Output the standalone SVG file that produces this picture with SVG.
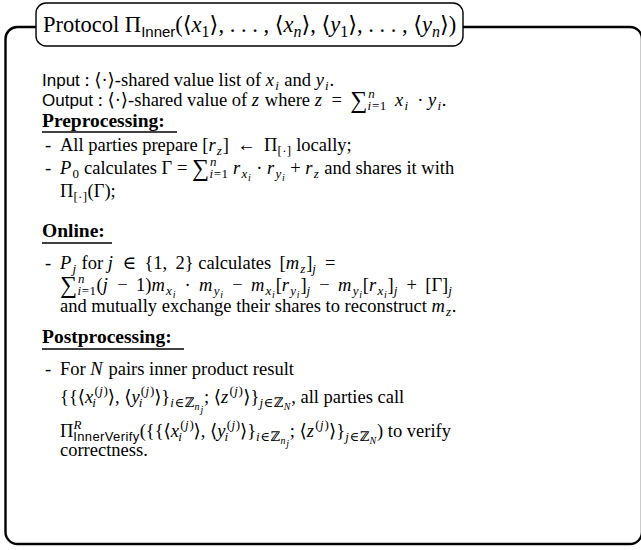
<svg xmlns="http://www.w3.org/2000/svg" width="641" height="550" viewBox="0 0 641 550">
  <style>
    text{font-family:"Liberation Serif","Times New Roman","DejaVu Serif",serif;font-size:18.5px;fill:#000}
    .title{font-size:22.5px}
    .sf{font-family:"Liberation Sans",Arial,sans-serif;font-size:17px}
    .i{font-style:italic;letter-spacing:1.2px}
    .sum{font-size:24px;baseline-shift:-2px;letter-spacing:1px}
    .s{font-size:13px;baseline-shift:-4px;letter-spacing:0.4px}
    .p{font-size:13px;baseline-shift:8px;letter-spacing:0.4px}
    .s .i,.s.i,.p .i,.p.i{letter-spacing:0.8px}
    .ss{font-size:10px;baseline-shift:-3px}
    .title .i{letter-spacing:0}
    .ts{font-family:"Liberation Sans",Arial,sans-serif;font-size:15px;baseline-shift:-5px}
    .tn{font-size:16px;baseline-shift:-5px}
    .h{font-weight:bold;font-size:19.5px}
    .frame{fill:none;stroke:#000;stroke-width:2.4}
    .tbox{fill:#fff;stroke:#000;stroke-width:1.4}
    .ul{stroke:#000;stroke-width:1.5}
  </style>

  <!-- outer frame, open at the title box -->
  <g id="frame">
    <path class="frame" d="M36,27 H17 A12,12 0 0 0 5.5,39 V532 A12,12 0 0 0 17.5,544 H630 A12,12 0 0 0 642,532 V39 A12,12 0 0 0 630,27 H463"/>
  </g>

  <!-- title box -->
  <g id="title">
    <rect class="tbox" x="36" y="3" width="427" height="43" rx="10"/>
    <text class="title" x="43" y="32">Protocol Π<tspan class="ts">Inner</tspan>(⟨<tspan class="i">x</tspan><tspan class="tn">1</tspan>⟩, . . . , ⟨<tspan class="i">x</tspan><tspan class="tn i">n</tspan>⟩, ⟨<tspan class="i">y</tspan><tspan class="tn">1</tspan>⟩, . . . , ⟨<tspan class="i">y</tspan><tspan class="tn i">n</tspan>⟩)</text>
  </g>

  <!-- input / output -->
  <g id="io">
    <text x="42" y="86"><tspan class="sf">Input</tspan> : ⟨·⟩-shared value list of <tspan class="i">x</tspan><tspan class="s i">i</tspan> and <tspan class="i">y</tspan><tspan class="s i">i</tspan>.</text>
    <text x="42" y="106"><tspan class="sf">Output</tspan> : ⟨·⟩-shared value of <tspan class="i">z</tspan> where <tspan class="i">z</tspan>&#8201; = &#8201;<tspan class="sum">∑</tspan><tspan class="p i">n</tspan><tspan class="s" dx="-8"><tspan class="i">i</tspan>=1</tspan>&#8201; <tspan class="i">x</tspan><tspan class="s i">i</tspan>&#8201; · <tspan class="i">y</tspan><tspan class="s i">i</tspan>.</text>
  </g>

  <!-- preprocessing -->
  <g id="preprocessing">
    <text class="h" x="42" y="127">Preprocessing:</text>
    <line class="ul" x1="42" y1="132" x2="177" y2="132"/>
    <text x="45" y="151">-</text>
    <text x="60" y="151">All parties prepare [<tspan class="i">r</tspan><tspan class="s i">z</tspan>]&#8201; ← &#8201;Π<tspan class="s">[·]</tspan> locally;</text>
    <text x="45" y="174">-</text>
    <text x="60" y="174"><tspan class="i">P</tspan><tspan class="s">0</tspan> calculates Γ = <tspan class="sum">∑</tspan><tspan class="p i">n</tspan><tspan class="s" dx="-8"><tspan class="i">i</tspan>=1</tspan> <tspan class="i">r</tspan><tspan class="s"><tspan class="i">x</tspan><tspan class="ss i">i</tspan></tspan> · <tspan class="i">r</tspan><tspan class="s"><tspan class="i">y</tspan><tspan class="ss i">i</tspan></tspan> + <tspan class="i">r</tspan><tspan class="s i">z</tspan> and shares it with</text>
    <text x="60" y="197">Π<tspan class="s">[·]</tspan>(Γ);</text>
  </g>

  <!-- online -->
  <g id="online">
    <text class="h" x="42" y="237">Online:</text>
    <line class="ul" x1="42" y1="243" x2="112" y2="243"/>
    <text x="45" y="269">-</text>
    <text x="60" y="269"><tspan class="i">P</tspan><tspan class="s i">j</tspan> for <tspan class="i">j</tspan>&#8201; ∈ &#8201;{1,&#8201; 2} calculates&#8201; [<tspan class="i">m</tspan><tspan class="s i">z</tspan>]<tspan class="s i">j</tspan>&#8201; =</text>
    <text x="60" y="291"><tspan class="sum">∑</tspan><tspan class="p i">n</tspan><tspan class="s" dx="-8"><tspan class="i">i</tspan>=1</tspan>(<tspan class="i">j</tspan>&#8201; − &#8201;1)<tspan class="i">m</tspan><tspan class="s"><tspan class="i">x</tspan><tspan class="ss i">i</tspan></tspan>&#8201; · &#8201;<tspan class="i">m</tspan><tspan class="s"><tspan class="i">y</tspan><tspan class="ss i">i</tspan></tspan>&#8201; − &#8201;<tspan class="i">m</tspan><tspan class="s"><tspan class="i">x</tspan><tspan class="ss i">i</tspan></tspan>[<tspan class="i">r</tspan><tspan class="s"><tspan class="i">y</tspan><tspan class="ss i">i</tspan></tspan>]<tspan class="s i">j</tspan>&#8201; − &#8201;<tspan class="i">m</tspan><tspan class="s"><tspan class="i">y</tspan><tspan class="ss i">i</tspan></tspan>[<tspan class="i">r</tspan><tspan class="s"><tspan class="i">x</tspan><tspan class="ss i">i</tspan></tspan>]<tspan class="s i">j</tspan>&#8201; + &#8201;[Γ]<tspan class="s i">j</tspan></text>
    <text x="60" y="312">and mutually exchange their shares to reconstruct <tspan class="i">m</tspan><tspan class="s i">z</tspan>.</text>
  </g>

  <!-- postprocessing -->
  <g id="postprocessing">
    <text class="h" x="42" y="343">Postprocessing:</text>
    <line class="ul" x1="42" y1="349" x2="184" y2="349"/>
    <text x="45" y="375">-</text>
    <text x="60" y="375">For <tspan class="i">N</tspan> pairs inner product result</text>
    <text x="60" y="403">{{⟨<tspan class="i">x</tspan><tspan class="p">(<tspan class="i">j</tspan>)</tspan><tspan class="s i" dx="-16">i</tspan><tspan dx="11">⟩, ⟨</tspan><tspan class="i">y</tspan><tspan class="p">(<tspan class="i">j</tspan>)</tspan><tspan class="s i" dx="-16">i</tspan><tspan dx="11">⟩}</tspan><tspan class="s"><tspan class="i">i</tspan>∈ℤ<tspan class="ss i">n</tspan><tspan class="ss"><tspan class="ss i">j</tspan></tspan></tspan>; ⟨<tspan class="i">z</tspan><tspan class="p">(<tspan class="i">j</tspan>)</tspan>⟩}<tspan class="s"><tspan class="i">j</tspan>∈ℤ<tspan class="ss i">N</tspan></tspan>, all parties call</text>
    <text x="60" y="437">Π<tspan class="p i">R</tspan><tspan class="s sf" dx="-9">InnerVerify</tspan>({{⟨<tspan class="i">x</tspan><tspan class="p">(<tspan class="i">j</tspan>)</tspan><tspan class="s i" dx="-16">i</tspan><tspan dx="11">⟩, ⟨</tspan><tspan class="i">y</tspan><tspan class="p">(<tspan class="i">j</tspan>)</tspan><tspan class="s i" dx="-16">i</tspan><tspan dx="11">⟩}</tspan><tspan class="s"><tspan class="i">i</tspan>∈ℤ<tspan class="ss i">n</tspan><tspan class="ss"><tspan class="ss i">j</tspan></tspan></tspan>; ⟨<tspan class="i">z</tspan><tspan class="p">(<tspan class="i">j</tspan>)</tspan>⟩}<tspan class="s"><tspan class="i">j</tspan>∈ℤ<tspan class="ss i">N</tspan></tspan>) to verify</text>
    <text x="60" y="456">correctness.</text>
  </g>
</svg>
